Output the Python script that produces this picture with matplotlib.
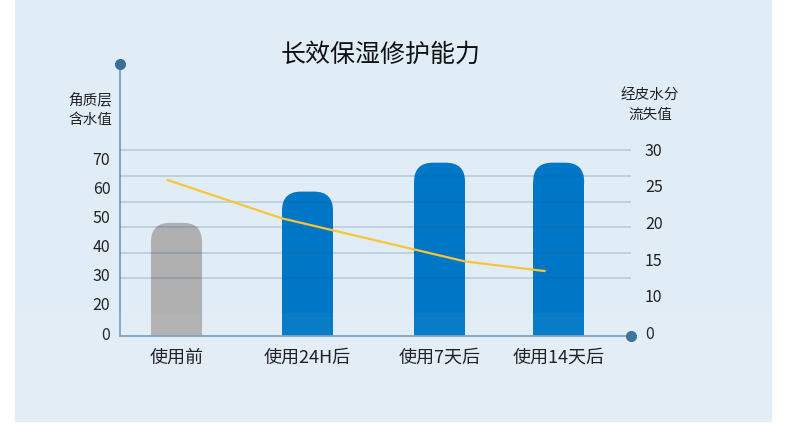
import numpy as np
import matplotlib.pyplot as plt
from matplotlib.patches import FancyBboxPatch, Rectangle

plt.rcParams['font.family'] = ['Noto Sans CJK SC', 'DejaVu Sans']

# data
categories = ['使用前', '使用24H后', '使用7天后', '使用14天后']
moisture = [47.8, 58.5, 68.4, 68.4]          # 角质层含水值 (left axis)
tewl_x = [-0.07, 0.82, 2.26, 2.88]           # where the line's vertices sit
tewl = [25.8, 20.6, 14.7, 13.4]              # 经皮水分流失值 (right axis)
left_ticks = [10, 20, 30, 40, 50, 60, 70]
left_labels = ['0', '20', '30', '40', '50', '60', '70']
right_ticks = [5, 10, 15, 20, 25, 30]
right_labels = ['0', '10', '15', '20', '25', '30']
bar_colors = ['#b0b0b0', '#0077c6', '#0077c6', '#0077c6']

# slots of the categories (the original spaces them unevenly)
slots = [0, 1.025, 2.058, 2.99]

W, H = 790, 424
fig = plt.figure(figsize=(W / 100, H / 100), dpi=100)
fig.patch.set_facecolor('white')
fig.patches.append(Rectangle((15 / W, 3 / H), 756 / W, 421 / H, transform=fig.transFigure,
                             color='#e1edf6', zorder=-5))

# axes box in pixels: left 120, right 631, bottom 336, top 64
ax = fig.add_axes([120 / W, (H - 336) / H, 511 / W, 272 / H])
ax.set_facecolor('none')
xlim = (-0.442, 3.556)
ylim = (9.04, 102.2)
ax.set_xlim(*xlim)
ax.set_ylim(*ylim)

ppx = 511 / (xlim[1] - xlim[0])   # pixels per x unit
ppy = 272 / (ylim[1] - ylim[0])   # pixels per y unit
bw = 51 / ppx
r_px = 19
cap = r_px / ppy

ax.bar(slots, [m - cap for m in moisture], width=bw, color=bar_colors, zorder=1)
for xi, m, c in zip(slots, moisture, bar_colors):
    ax.add_patch(FancyBboxPatch((xi - bw / 2, m - 2 * cap), bw, 2 * cap,
                                boxstyle=f"round,pad=0,rounding_size={r_px / ppx}",
                                mutation_aspect=ppx / ppy, color=c, lw=0, zorder=1))

# decorative grid (not aligned with the tick labels in the original)
grid_y = 20 + 8.77 * np.arange(7)
ax.set_yticks(grid_y, minor=True)
ax.grid(which='minor', axis='y', color='#1e558d', alpha=0.22, lw=1.2)
ax.set_axisbelow(False)

ax.set_yticks(left_ticks, left_labels)
ax.set_xticks(slots, categories)
ax.tick_params(axis='y', which='both', length=0, pad=7, labelsize=11.5, labelcolor='#222222')
ax.tick_params(axis='x', length=0, pad=9, labelsize=13, labelcolor='#1a1a1a')

for s in ['top', 'right']:
    ax.spines[s].set_visible(False)
for s in ['left', 'bottom']:
    ax.spines[s].set_color('#78a0c3')
    ax.spines[s].set_linewidth(1.3)

ax.plot([0], [1], 'o', transform=ax.transAxes, clip_on=False, color='#3a6f99', ms=7, zorder=5)
ax.plot([1], [0], 'o', transform=ax.transAxes, clip_on=False, color='#3a6f99', ms=7, zorder=5)

ax2 = ax.twinx()
ax2.set_ylim(4.55, 41.6)
ax2.set_yticks(right_ticks, right_labels)
ax2.tick_params(axis='y', length=0, pad=10, labelsize=11.5, labelcolor='#222222')
for s in ax2.spines.values():
    s.set_visible(False)
ax2.plot(tewl_x, tewl, color='#f8c53a', lw=1.6)

fig.text(381 / W, 1 - 55 / H, '长效保湿修护能力', ha='center', va='center', fontsize=18, color='#111111')
fig.text(112 / W, 1 - 110 / H, '角质层\n含水值', ha='right', va='center', fontsize=10.5,
         linespacing=1.55, color='#222222')
fig.text(650 / W, 1 - 104.5 / H, '经皮水分\n流失值', ha='center', va='center', fontsize=10.5,
         linespacing=1.55, color='#222222')

# faint white haze along the bottom of the panel
fig.patches.append(Rectangle((15 / W, 3 / H), 756 / W, 108 / H, transform=fig.transFigure,
                             color='white', alpha=0.04, lw=0, zorder=2))

fig.savefig('out.png', dpi=100)
